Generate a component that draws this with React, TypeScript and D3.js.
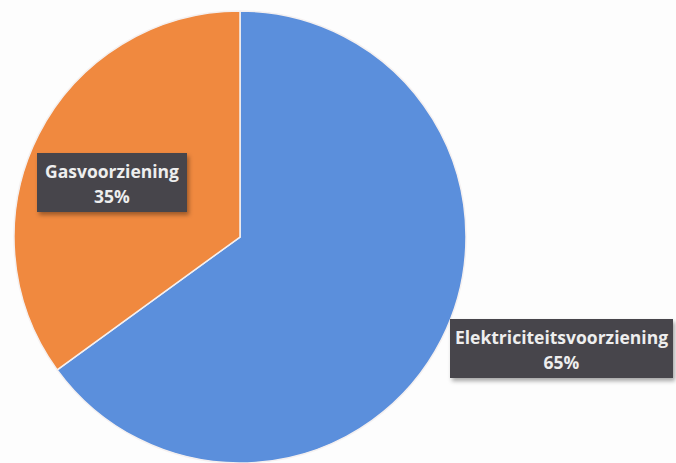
import React from "react";
import * as d3 from "d3";

const categories = ["Elektriciteitsvoorziening", "Gasvoorziening"];
const values = [65, 35];
const percentLabels = ["65%", "35%"];
const colors = ["#5b8fdc", "#f0893f"];

const W = 676, H = 463;
const cx = 240, cy = 237, R = 226;

const boxes = [
  { x: 450, y: 319, w: 223, h: 59 },
  { x: 37, y: 153, w: 150, h: 59 },
];

export default function App() {
  const pie = d3.pie<number>().sort(null).value((d) => d)(values);
  const arc = d3.arc<d3.PieArcDatum<number>>().innerRadius(0).outerRadius(R);
  return (
    <svg width={W} height={H} style={{ position: "absolute", left: 0, top: 0, background: "#fdfdfd" }}>
      <defs>
        <filter id="sh" x="-10%" y="-10%" width="130%" height="140%">
          <feDropShadow dx="2" dy="3" stdDeviation="2" floodColor="#000" floodOpacity="0.35" />
        </filter>
      </defs>
      <g transform={`translate(${cx},${cy})`}>
        {pie.map((p, i) => (
          <path key={i} d={arc(p) || ""} fill={colors[i]} stroke="#f4f0f0" strokeWidth={1.5} />
        ))}
      </g>
      {boxes.map((b, i) => (
        <g key={i}>
          <rect x={b.x} y={b.y} width={b.w} height={b.h} fill="#46444b" filter="url(#sh)" />
          <text x={b.x + b.w / 2} y={b.y + 25} textAnchor="middle" fill="#eeeeee"
            fontFamily="'Open Sans', sans-serif" fontWeight={700} fontSize={17.5}>{categories[i]}</text>
          <text x={b.x + b.w / 2} y={b.y + 50} textAnchor="middle" fill="#eeeeee"
            fontFamily="'Open Sans', sans-serif" fontWeight={700} fontSize={17.5}>{percentLabels[i]}</text>
        </g>
      ))}
    </svg>
  );
}
